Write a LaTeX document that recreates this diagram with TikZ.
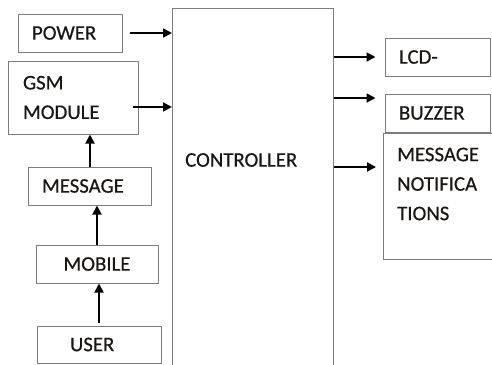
\documentclass[tikz,border=0pt]{standalone}
\usepackage{fontspec}
\setmainfont{Carlito}[FakeBold=0.4]
\usetikzlibrary{arrows.meta}
\definecolor{boxgray}{RGB}{125,125,125}
\definecolor{txtcol}{RGB}{25,22,20}
\tikzset{
    blk/.style={draw=boxgray, line width=1pt, text=txtcol, inner xsep=14pt, inner ysep=0pt, align=left},
    txt/.style={text=txtcol, inner sep=0pt, align=left},
    arr/.style={-{Triangle[length=9pt,width=9pt]}, line width=1.8pt},
}
\begin{document}
\begin{tikzpicture}[x=1pt, y=-1pt, font=\fontsize{20.8pt}{29.5pt}\selectfont]
    \clip (0,0) rectangle (492,364);

    % Blocs d'entree
    \node[blk, text width=76pt, minimum height=38pt] (power) at (70,33) {POWER};
    \node[blk, inner xsep=15pt, text width=100pt, minimum height=73pt] (gsm) at (73,97.5) {GSM\\MODULE};
    \node[blk, text width=95pt, minimum height=38pt] (msg) at (89.5,186) {MESSAGE};
    \node[blk, text width=94pt, minimum height=38pt, align=center] (mobile) at (97,264) {MOBILE};
    \node[blk, inner xsep=33pt, text width=58pt, minimum height=37pt] (user) at (99,344.5) {USER};

    % Controleur
    \node[blk, minimum width=161pt, minimum height=420pt, anchor=north west] (ctrl) at (172,8) {};
    \node[txt, anchor=west] (ctrllbl) at (185,160) {CONTROLLER};

    % Blocs de sortie
    \node[blk, text width=77pt, minimum height=38pt] (lcd) at (437.5,57) {LCD-};
    \node[blk, text width=77pt, minimum height=38pt] (buzzer) at (437.5,113) {BUZZER};
    \node[blk, minimum width=150pt, minimum height=126pt, anchor=north west] (notif) at (383,133) {};
    \node[txt, anchor=north west] (notiflbl) at (397,147.5) {MESSAGE\\NOTIFICA\\TIONS};

    % Fleches
    \coordinate (g1) at ([shift={(-6pt,-9.5pt)}]gsm.east);
    \coordinate (b1) at ([yshift=15pt]buzzer.west);
    \coordinate (n1) at ([shift={(-7pt,-34pt)}]notif.north west);

    \draw[arr] ([xshift=7pt]power.east) -- (power.east -| ctrl.west);
    \draw[arr] (g1) -- (g1 -| ctrl.west);
    \draw[arr] ([xshift=0.5pt]msg.north) -- ([xshift=0.5pt]msg.north |- gsm.south);
    \draw[arr] (mobile.north) -- (mobile.north |- msg.south);
    \draw[arr] ([yshift=3pt]user.north) -- (user.north |- mobile.south);

    \draw[arr] (ctrl.east |- lcd.west) -- ([xshift=-9pt]lcd.west);
    \draw[arr] (ctrl.east |- b1) -- ([xshift=-9pt]b1);
    \draw[arr] (n1 -| ctrl.east) -- (n1);
\end{tikzpicture}
\end{document}
